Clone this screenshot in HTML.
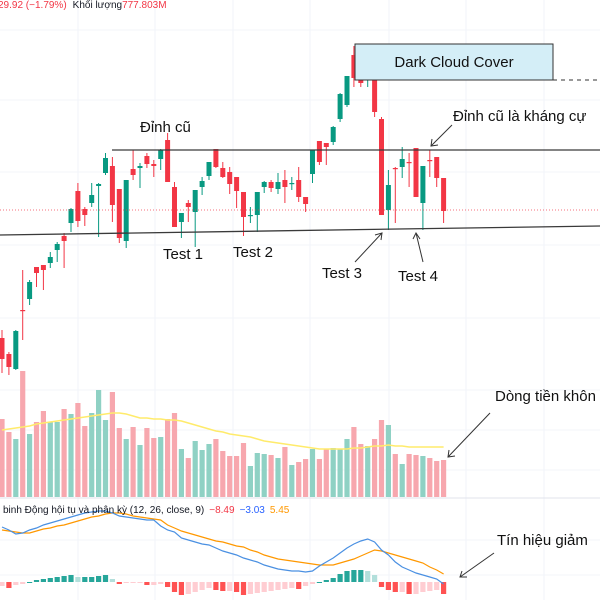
<!DOCTYPE html>
<html><head><meta charset="utf-8">
<style>
html,body{margin:0;padding:0;background:#fff;width:600px;height:600px;overflow:hidden}
svg{display:block}
text{font-family:"Liberation Sans","DejaVu Sans",sans-serif}
</style></head>
<body>
<svg id="chart" width="600" height="600" viewBox="0 0 600 600" xmlns="http://www.w3.org/2000/svg">
<g id="grid"></g>
<g id="candles"></g>
<g id="volume"></g>
<g id="macd"></g>
<g id="annot">
  <line x1="0" y1="498" x2="600" y2="498" stroke="#e0e3eb" stroke-width="1"/>
  <line x1="0" y1="210" x2="600" y2="210" stroke="#f23645" stroke-width="1" stroke-dasharray="1,2" opacity="0.7"/>
  <line x1="112" y1="150" x2="600" y2="150" stroke="#3a3a3a" stroke-width="1.3"/>
  <line x1="0" y1="235" x2="600" y2="226" stroke="#3a3a3a" stroke-width="1.3"/>
  <rect x="355" y="44" width="198" height="36" fill="#d4eef7" stroke="#333" stroke-width="1"/>
  <text x="454" y="67" font-size="15" text-anchor="middle" fill="#111">Dark Cloud Cover</text>
  <line x1="553" y1="80" x2="600" y2="80" stroke="#333" stroke-width="1" stroke-dasharray="4,4"/>
  <text x="140" y="132" font-size="15" fill="#111">Đỉnh cũ</text>
  <text x="453" y="121" font-size="15" fill="#111">Đỉnh cũ là kháng cự</text>
  <line x1="452" y1="125" x2="431" y2="146" stroke="#333" stroke-width="1"/>
  <polyline points="432,139 431,146 438,145" fill="none" stroke="#333" stroke-width="1"/>
  <text x="163" y="259" font-size="15" fill="#111">Test 1</text>
  <text x="233" y="257" font-size="15" fill="#111">Test 2</text>
  <text x="322" y="278" font-size="15" fill="#111">Test 3</text>
  <text x="398" y="281" font-size="15" fill="#111">Test 4</text>
  <line x1="355" y1="262" x2="382" y2="233" stroke="#333" stroke-width="1"/>
  <polyline points="375,235 382,233 381,240" fill="none" stroke="#333" stroke-width="1"/>
  <line x1="423" y1="262" x2="416" y2="233" stroke="#333" stroke-width="1"/>
  <polyline points="413,239 416,233 420,239" fill="none" stroke="#333" stroke-width="1"/>
  <text x="495" y="401" font-size="15" fill="#111">Dòng tiền khôn</text>
  <line x1="490" y1="413" x2="448" y2="457" stroke="#333" stroke-width="1"/>
  <polyline points="449,450 448,457 455,456" fill="none" stroke="#333" stroke-width="1"/>
  <text x="497" y="545" font-size="15" fill="#111">Tín hiệu giảm</text>
  <line x1="494" y1="553" x2="460" y2="577" stroke="#333" stroke-width="1"/>
  <polyline points="462,571 460,577 467,577" fill="none" stroke="#333" stroke-width="1"/>
  <text x="-2" y="8" font-size="10"><tspan fill="#f23645">29.92 (−1.79%)</tspan><tspan fill="#131722" dx="6">Khối lượng</tspan><tspan fill="#f23645">777.803M</tspan></text>
  <text x="3" y="513" font-size="10"><tspan fill="#131722">binh Động hội tụ và phân kỳ (12, 26, close, 9)</tspan><tspan fill="#f23645" dx="5">−8.49</tspan><tspan fill="#2962ff" dx="5">−3.03</tspan><tspan fill="#ff9800" dx="5">5.45</tspan></text>
</g>
</svg>
<script>
const opens  = [62,46,31,90,101,133,135,137,150,164,177,209,191,197,214,227,234,211,159,231,232,244,236,241,260,213,178,197,188,213,224,251,232,228,223,208,184,185,213,218,211,220,216,220,203,226,259,257,258,281,295,345,327,325,334,281,190,232,233,238,252,197,240,243,222];
const highs  = [70,48,70,130,120,133,135,148,158,167,192,217,193,217,217,247,243,211,220,250,237,247,240,251,267,218,187,200,210,223,238,251,238,233,223,208,193,208,219,220,227,230,223,233,203,250,259,257,274,307,324,354,337,328,334,283,230,233,253,247,252,234,250,243,222];
const lows   = [27,25,30,60,95,113,110,132,138,132,168,173,174,193,163,225,178,157,152,220,212,232,223,230,218,173,162,178,153,205,220,232,222,206,192,164,177,168,207,208,206,197,210,198,188,217,235,235,255,278,293,313,313,313,283,185,170,177,222,213,203,170,223,213,177];
const closes = [41,33,69,89,118,127,130,143,156,159,191,179,185,205,216,242,195,162,220,225,234,236,234,250,218,173,187,193,210,219,238,233,223,216,209,183,185,208,218,212,218,213,217,203,196,250,238,253,273,306,324,322,317,327,288,185,215,231,241,237,203,234,239,222,189];
const volumes = [78,65,58,126,63,75,86,75,75,88,83,94,71,84,107,77,105,69,58,70,52,69,59,60,78,84,48,39,56,47,53,58,46,41,41,54,31,44,43,42,39,50,32,35,38,48,38,48,49,48,58,70,53,51,58,77,72,43,33,43,42,41,39,36,37];
const volumeMA = [67,68,69,70,71,73,74,75,76,77,78,79,80,81,82,83,84,84,83,81,79,79,78,78,77,77,76,74,72,70,68,66,65,63,62,61,60,58,56,55,54,53,52,51,50,49,48,48,48,48,48,49,49,50,51,51,52,51,51,50,50,50,50,50,50];
const macdLine = [55,52,48,49,52,54,57,59,61,63,65,67,69,70,71,71,69,66,65,64,63,62,62,56,52,50,44,42,40,38,37,34,31,29,27,24,22,20,17,15,13,12,11,11,10,11,16,20,24,29,34,38,41,43,40,32,27,20,15,12,9,7,5,3,-2];
const signalLine = [52,51,50,49,49,51,53,54,56,57,59,61,63,65,66,68,69,69,68,66,65,64,63,62,57,54,51,49,47,45,43,41,40,38,36,35,32,30,27,25,23,22,21,20,19,18,17,17,17,19,21,23,26,29,32,31,29,27,25,23,21,19,15,12,8];
const histogram = [-4,-6,-3,-2,0,2,3,4,5,6,7,5,5,5,6,7,3,-2,-1,-1,-1,-3,-3,-2,-5,-10,-13,-12,-10,-8,-6,-8,-9,-9,-10,-13,-12,-11,-10,-9,-8,-7,-6,-7,-4,-2,0,2,4,8,11,12,12,11,7,-5,-8,-10,-10,-12,-12,-10,-9,-8,-12];

const NS='http://www.w3.org/2000/svg';
const xScale = i => 2 + 6.9*i;
const yPrice = p => 400 - p;
const yVol = v => 497 - v;
const yMacd = m => 582 - m;
const UP='#089981', DN='#f23645';
function mk(tag, attrs, parent){const e=document.createElementNS(NS,tag);for(const k in attrs)e.setAttribute(k,attrs[k]);parent.appendChild(e);return e;}

const grid=document.getElementById('grid');
[78,155,233,310,389,466,544].forEach(x=>{
  const l=mk('line',{x1:x,y1:0,x2:x,y2:600,stroke:'#f0f3fa','stroke-width':1},grid);
  
  
});
[30,100,172,245,318,390,430,470,540,575].forEach(y=>{
  const l=mk('line',{x1:0,y1:y,x2:600,y2:y,stroke:'#f3f5f9','stroke-width':1},grid);
  
  
});

const cg=document.getElementById('candles');
opens.forEach((o,i)=>{
  const c=closes[i], up=c>=o, col=up?UP:DN, x=xScale(i);
  const g=mk('g',{},cg);
  
  
  mk('line',{x1:x,y1:yPrice(highs[i]),x2:x,y2:yPrice(lows[i]),stroke:col,'stroke-width':1},g);
  const top=yPrice(Math.max(o,c)), h=Math.max(1.2,Math.abs(yPrice(o)-yPrice(c)));
  mk('rect',{x:x-2.5,y:top,width:5,height:h,fill:col},g);
});

const vg=document.getElementById('volume');
volumes.forEach((v,i)=>{
  const up=closes[i]>=opens[i], x=xScale(i);
  const r=mk('rect',{x:x-2.6,y:yVol(v),width:5.2,height:v,fill:up?'#8fd1c4':'#f7a7ae'},vg);
  
  
});
const vma=mk('polyline',{points:volumeMA.map((v,i)=>xScale(i)+','+yVol(v)).join(' '),fill:'none',stroke:'#ffeb6b','stroke-width':1.5},vg);



const mg=document.getElementById('macd');
histogram.forEach((h,i)=>{
  const prev=i>0?histogram[i-1]:h, x=xScale(i);
  let col;
  if(h>=0) col = h>=prev ? '#26a69a' : '#b2dfdb';
  else col = h<prev ? '#ff5252' : '#ffcdd2';
  const y0=yMacd(0), y1=yMacd(h);
  const r=mk('rect',{x:x-2.6,y:Math.min(y0,y1),width:5.2,height:Math.max(1,Math.abs(y1-y0)),fill:col},mg);
  
  
});
const sig=mk('polyline',{points:signalLine.map((v,i)=>xScale(i)+','+yMacd(v)).join(' '),fill:'none',stroke:'#ff9800','stroke-width':1.2},mg);


const ml=mk('polyline',{points:macdLine.map((v,i)=>xScale(i)+','+yMacd(v)).join(' '),fill:'none',stroke:'#4a90e2','stroke-width':1.2},mg);


</script>
</body></html>
